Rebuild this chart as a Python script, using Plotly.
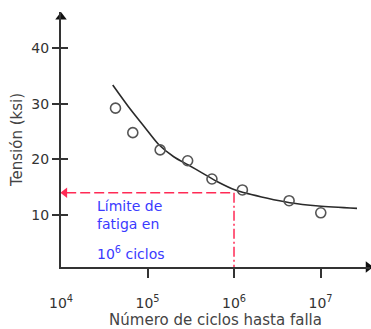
import plotly.graph_objects as go

# Data: log10(cycles) and stress (ksi)
ciclos_exp = [4.63, 4.83, 5.146, 5.464, 5.745, 6.097, 6.637, 7.003]
tension = [29.2, 24.8, 21.7, 19.75, 16.47, 14.5, 12.57, 10.4]

curva_exp = [4.598, 4.78, 4.963, 5.135, 5.303, 5.472, 5.64, 5.809, 6.015, 6.387, 6.644, 6.978, 7.422]
curva_tension = [33.35, 29.45, 25.86, 22.57, 20.47, 18.98, 17.49, 15.98, 14.49, 13.0, 12.21, 11.62, 11.2]

limite_ciclos = 1e6
limite_tension = 14

x_tickvals = [1e4, 1e5, 1e6, 1e7]
x_ticktext = ["10<sup>4</sup>", "10<sup>5</sup>", "10<sup>6</sup>", "10<sup>7</sup>"]
x_tickmarks = [1e5, 1e6, 1e7]
y_tickvals = [10, 20, 30, 40]

X_RANGE = [4, 7.572]
Y_RANGE = [0.66, 46.47]

FONT = "DejaVu Sans"
GRAY = "#333333"
RED = "#ff2a55"
BLUE = "#3a3aff"

fig = go.Figure()

fig.add_trace(go.Scatter(
    x=[10 ** e for e in curva_exp], y=curva_tension, mode="lines",
    line=dict(color="#2a2a2a", width=1.6, shape="spline", smoothing=0.8),
    hoverinfo="skip", showlegend=False))

fig.add_trace(go.Scatter(
    x=[10 ** e for e in ciclos_exp], y=tension, mode="markers",
    marker=dict(symbol="circle-open", size=10, color="#555555", line=dict(width=1.6)),
    showlegend=False))

# reference lines (fatigue limit)
fig.add_trace(go.Scatter(
    x=[10 ** 4.06, limite_ciclos], y=[limite_tension, limite_tension], mode="lines",
    line=dict(color=RED, width=1.5, dash="10px,4px"),
    hoverinfo="skip", showlegend=False, xaxis="x2", yaxis="y2"))
fig.add_trace(go.Scatter(
    x=[limite_ciclos, limite_ciclos], y=[limite_tension, Y_RANGE[0]], mode="lines",
    line=dict(color=RED, width=1.5, dash="10px,3px,2px,3px"),
    hoverinfo="skip", showlegend=False, xaxis="x2", yaxis="y2"))
# red arrow head
fig.add_trace(go.Scatter(
    x=[10 ** 4.045], y=[limite_tension], mode="markers",
    marker=dict(symbol="triangle-left", size=9, color=RED),
    hoverinfo="skip", showlegend=False, cliponaxis=False, xaxis="x2", yaxis="y2"))
# axis arrow heads
fig.add_trace(go.Scatter(
    x=[10 ** X_RANGE[0]], y=[Y_RANGE[1] - 0.9], mode="markers",
    marker=dict(symbol="triangle-up", size=10, color="#111"),
    hoverinfo="skip", showlegend=False, cliponaxis=False))
fig.add_trace(go.Scatter(
    x=[10 ** (X_RANGE[1] - 0.02)], y=[Y_RANGE[0]], mode="markers",
    marker=dict(symbol="triangle-right", size=10, color="#111"),
    hoverinfo="skip", showlegend=False, cliponaxis=False))

fig.update_layout(
    width=371, height=329,
    margin=dict(l=61, r=1, t=12, b=62),
    paper_bgcolor="white", plot_bgcolor="white",
    font=dict(family=FONT, color=GRAY, size=14),
    xaxis=dict(type="log", range=X_RANGE, showgrid=False, zeroline=False, automargin=False,
               showline=True, linecolor=GRAY, linewidth=2,
               tickvals=x_tickvals, ticktext=x_ticktext, ticks="",
               ticklabelstandoff=22, tickfont=dict(size=14, color=GRAY),
               title=dict(text="Número de ciclos hasta falla", font=dict(size=15, color="#444"), standoff=3)),
    yaxis=dict(range=Y_RANGE, showgrid=False, zeroline=False, automargin=False,
               showline=True, linecolor=GRAY, linewidth=2,
               tickvals=y_tickvals, ticks="outside", ticklen=7, tickwidth=1.5, tickcolor=GRAY,
               tickfont=dict(size=14, color=GRAY),
               title=dict(text="Tensión (ksi)", font=dict(size=15, color="#444"), standoff=5)),
    xaxis2=dict(type="log", range=X_RANGE, overlaying="x", anchor="y", side="bottom", automargin=False,
                showgrid=False, zeroline=False, showline=False, showticklabels=False,
                tickvals=x_tickmarks, ticks="outside", ticklen=10, tickwidth=2, tickcolor=GRAY),
    yaxis2=dict(range=Y_RANGE, overlaying="y", anchor="x", side="left", automargin=False,
                showgrid=False, zeroline=False, showline=False, showticklabels=False,
                tickvals=y_tickvals, ticks="inside", ticklen=7, tickwidth=1.5, tickcolor=GRAY),
)

# blue label
fig.add_annotation(xref="x", yref="y", x=4.39, y=10.05, text="Límite de<br>fatiga en",
                   showarrow=False, xanchor="left", yanchor="middle", align="left",
                   font=dict(family=FONT, size=14, color=BLUE))
fig.add_annotation(xref="x", yref="y", x=4.39, y=3.1, text="10<sup>6</sup> ciclos",
                   showarrow=False, xanchor="left", yanchor="middle", align="left",
                   font=dict(family=FONT, size=14, color=BLUE))

fig.write_html("out.html", config={"displayModeBar": False},
               post_script="document.body.style.margin='0';document.body.style.overflow='hidden';")
